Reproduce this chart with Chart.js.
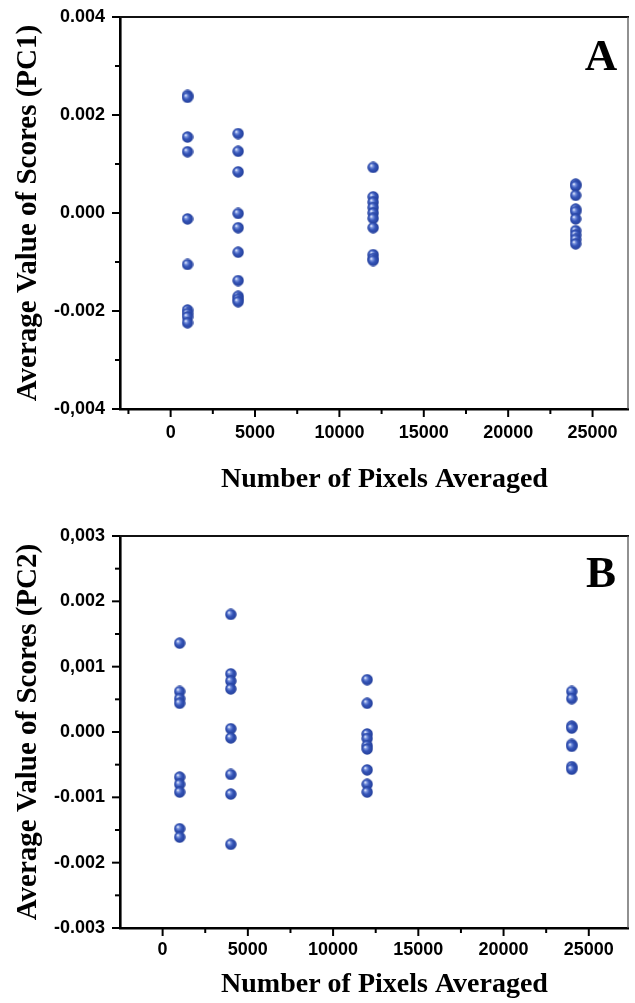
<!DOCTYPE html>
<html>
<head>
<meta charset="utf-8">
<script src="https://cdn.jsdelivr.net/npm/chart.js@4.4.1/dist/chart.umd.min.js"></script>
<style>
  html, body { margin: 0; padding: 0; background: #fff; }
  #wrap { position: relative; width: 635px; height: 1003px; overflow: hidden; }
  canvas { position: absolute; left: 0; }
</style>
</head>
<body>
<div id="wrap">
  <canvas id="chartA" width="635" height="500" style="top:0"></canvas>
  <canvas id="chartB" width="635" height="503" style="top:500px"></canvas>
</div>
<script>
// number of pixels averaged (x positions of the four columns)
const pixelsAveraged = [1000, 4000, 12000, 24000];

// average PC1 scores, one list per column
const pc1At1000  = [0.00240, 0.00236, 0.00155, 0.00125, -0.00012, -0.00105, -0.00198, -0.00205, -0.00212, -0.00224];
const pc1At4000  = [0.00162, 0.00126, 0.00084, -0.00001, -0.00030, -0.00080, -0.00138, -0.00170, -0.00176, -0.00181];
const pc1At12000 = [0.00093, 0.00033, 0.00022, 0.00011, 0.00000, -0.00011, -0.00030, -0.00085, -0.00093, -0.00097];
const pc1At24000 = [0.00059, 0.00055, 0.00036, 0.00008, 0.00003, -0.00012, -0.00036, -0.00045, -0.00054, -0.00063];

// average PC2 scores
const pc2At1000  = [0.00136, 0.00062, 0.00051, 0.00044, -0.00069, -0.00080, -0.00092, -0.00148, -0.00161];
const pc2At4000  = [0.00180, 0.00089, 0.00078, 0.00066, 0.00005, -0.00009, -0.00065, -0.00095, -0.00172];
const pc2At12000 = [0.00080, 0.00044, -0.00003, -0.00010, -0.00021, -0.00026, -0.00058, -0.00080, -0.00092];
const pc2At24000 = [0.00062, 0.00051, 0.00009, 0.00006, -0.00019, -0.00022, -0.00053, -0.00057];

// axis ticks
const xTickValues  = [0, 5000, 10000, 15000, 20000, 25000];
const xMinorValues = [-2500, 2500, 7500, 12500, 17500, 22500];
const pc1TickValues = [-0.004, -0.002, 0, 0.002, 0.004];
const pc1TickLabels = ['-0,004', '-0.002', '0.000', '0.002', '0.004'];
const pc1MinorValues = [-0.003, -0.001, 0.001, 0.003];
const pc2TickValues = [-0.003, -0.002, -0.001, 0, 0.001, 0.002, 0.003];
const pc2TickLabels = ['-0.003', '-0.002', '-0.001', '0.000', '0,001', '0.002', '0,003'];
const pc2MinorValues = [-0.0025, -0.0015, -0.0005, 0.0005, 0.0015, 0.0025];

// little shaded ball used as point marker
function makeBall(size) {
  const c = document.createElement('canvas');
  c.width = size; c.height = size;
  const g = c.getContext('2d');
  const r = size / 2;
  const grad = g.createRadialGradient(r - 2, r - 2, 0.3, r, r, r);
  grad.addColorStop(0, '#f2f6ff');
  grad.addColorStop(0.2, '#7d97e0');
  grad.addColorStop(0.5, '#3555b8');
  grad.addColorStop(1, '#223d98');
  g.fillStyle = grad;
  g.beginPath();
  g.arc(r, r, r - 0.3, 0, Math.PI * 2);
  g.fill();
  return c;
}
const ball = makeBall(12);

function toPoints(cols) {
  const pts = [];
  cols.forEach((vals, i) => {
    vals.forEach(v => pts.push({ x: pixelsAveraged[i], y: v }));
  });
  return pts;
}

// frame, tick marks and panel letter
const framePlugin = {
  id: 'frame',
  afterDraw(chart, args, opts) {
    const { ctx, chartArea: a, scales } = chart;
    const x = scales.x, y = scales.y;
    const line = (x1, y1, x2, y2) => { ctx.beginPath(); ctx.moveTo(x1, y1); ctx.lineTo(x2, y2); ctx.stroke(); };
    ctx.save();
    ctx.strokeStyle = '#111';
    ctx.lineWidth = 2;
    line(a.left, a.top, a.right + 1, a.top);
    ctx.strokeStyle = '#555';
    ctx.lineWidth = 1.3;
    line(a.right, a.top, a.right, a.bottom);

    ctx.strokeStyle = '#000';
    ctx.lineWidth = 2;
    xTickValues.forEach(v => { const p = x.getPixelForValue(v); line(p, a.bottom, p, a.bottom + 8); });
    xMinorValues.forEach(v => {
      if (v <= x.min) return;
      const p = x.getPixelForValue(v); line(p, a.bottom, p, a.bottom + 5);
    });
    opts.yMajor.forEach(v => { const p = y.getPixelForValue(v); line(a.left - 8, p, a.left, p); });
    opts.yMinor.forEach(v => { const p = y.getPixelForValue(v); line(a.left - 5, p, a.left, p); });

    ctx.fillStyle = '#000';
    ctx.font = 'bold 45px "Liberation Serif", "Times New Roman", serif';
    ctx.textAlign = 'center';
    ctx.textBaseline = 'alphabetic';
    ctx.fillText(opts.letter, opts.letterX, opts.letterY);
    ctx.restore();
  }
};

function makeChart(id, cfg) {
  const ctx = document.getElementById(id).getContext('2d');
  return new Chart(ctx, {
    type: 'scatter',
    data: {
      datasets: [{
        data: toPoints(cfg.cols),
        pointStyle: ball,
        pointRadius: 6,
        pointHoverRadius: 6
      }]
    },
    options: {
      responsive: false,
      animation: false,
      events: [],
      layout: { padding: cfg.padding },
      plugins: {
        legend: { display: false },
        tooltip: { enabled: false },
        frame: cfg.frame
      },
      scales: {
        x: {
          type: 'linear',
          min: cfg.xMin,
          max: cfg.xMax,
          afterFit: s => { s.height = cfg.xAxisHeight; s.paddingLeft = 0; s.paddingRight = 0; },
          afterBuildTicks: s => { s.ticks = xTickValues.map(v => ({ value: v })); },
          grid: { display: false, drawTicks: false },
          border: { display: true, color: '#000', width: 2.6 },
          ticks: {
            autoSkip: false,
            maxRotation: 0,
            padding: cfg.xTickPad,
            color: '#000',
            font: { family: '"Liberation Sans", Arial, sans-serif', size: 18, weight: 'bold' },
            callback: v => String(v)
          },
          title: {
            display: true,
            text: '   Number of Pixels Averaged',
            color: '#000',
            font: { family: '"Liberation Serif", "Times New Roman", serif', size: 28, weight: 'bold' },
            padding: { top: 0, bottom: cfg.xTitlePad }
          }
        },
        y: {
          type: 'linear',
          min: cfg.yMin,
          max: cfg.yMax,
          afterFit: s => { s.width = 120; s.paddingTop = 0; s.paddingBottom = 0; },
          afterBuildTicks: s => { s.ticks = cfg.yTicks.map(v => ({ value: v })); },
          grid: { display: false, drawTicks: false },
          border: { display: true, color: '#000', width: 2.6 },
          ticks: {
            autoSkip: false,
            padding: 15,
            color: '#000',
            font: { family: '"Liberation Sans", Arial, sans-serif', size: 18, weight: 'bold' },
            callback: (v, i) => cfg.yLabels[i]
          },
          title: {
            display: true,
            text: cfg.yTitle,
            color: '#000',
            font: { family: '"Liberation Serif", "Times New Roman", serif', size: 29, weight: 'bold' },
            padding: { top: 11, bottom: 0 }
          }
        }
      }
    },
    plugins: [framePlugin]
  });
}

makeChart('chartA', {
  cols: [pc1At1000, pc1At4000, pc1At12000, pc1At24000],
  padding: { top: 17, right: 6, bottom: 0, left: 0 },
  xMin: -3000, xMax: 27100, xAxisHeight: 91, xTickPad: 13, xTitlePad: 3,
  yMin: -0.004, yMax: 0.004,
  yTicks: pc1TickValues, yLabels: pc1TickLabels,
  yTitle: 'Average Value of Scores (PC1)',
  frame: { yMajor: pc1TickValues, yMinor: pc1MinorValues, letter: 'A', letterX: 601, letterY: 70 }
});

makeChart('chartB', {
  cols: [pc2At1000, pc2At4000, pc2At12000, pc2At24000],
  padding: { top: 36, right: 2, bottom: 0, left: 0 },
  xMin: -2500, xMax: 27300, xAxisHeight: 75, xTickPad: 11, xTitlePad: 1,
  yMin: -0.003, yMax: 0.003,
  yTicks: pc2TickValues, yLabels: pc2TickLabels,
  yTitle: 'Average Value of Scores (PC2)',
  frame: { yMajor: pc2TickValues, yMinor: pc2MinorValues, letter: 'B', letterX: 601, letterY: 87 }
});
</script>
</body>
</html>
